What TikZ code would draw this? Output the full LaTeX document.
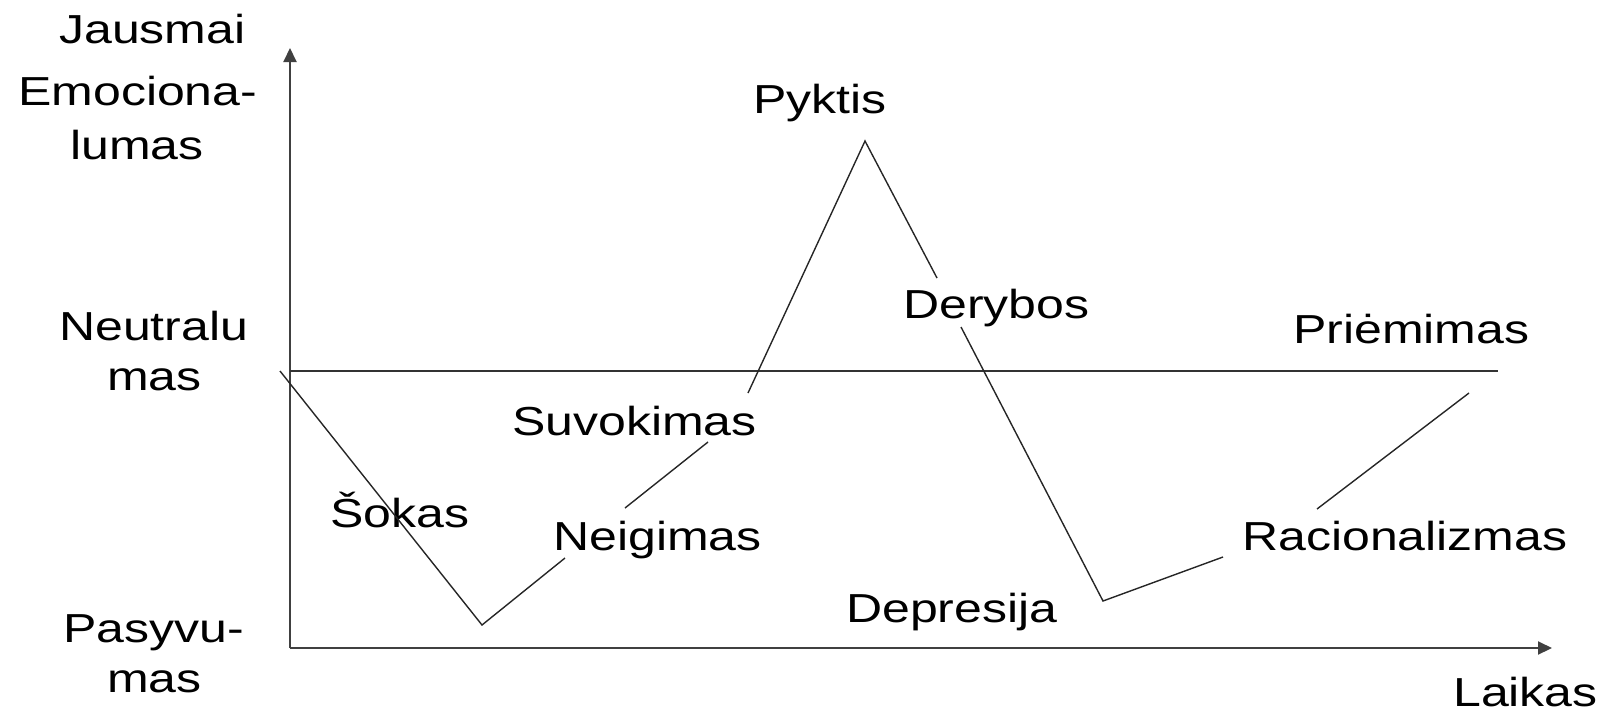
\documentclass[tikz,border=0pt]{standalone}
\usepackage{fontspec}
\setmainfont{Liberation Sans}[FakeStretch=1.235]
\usetikzlibrary{arrows.meta}
\begin{document}
\begin{tikzpicture}[x=1pt,y=-1pt,
  lbl/.style={anchor=base west, inner sep=0pt, font=\fontsize{40.5}{48}\selectfont},
  axisline/.style={line width=2pt, black!75, -{Triangle[length=14pt,width=13pt]}},
  guide/.style={line width=1.5pt, black!80},
  curve/.style={line width=1.4pt, black!85, line join=miter}]
\useasboundingbox (0,0) rectangle (1606,713);

% axes
\coordinate (O) at (290,648);
\coordinate (ytop) at (290,48);
\coordinate (xend) at (1552,648);
\draw[axisline] (O) -- (ytop);
\draw[axisline] (O) -- (xend);

% neutral level
\coordinate (n0) at (290,371);
\coordinate (n1) at (1498,371);
\draw[guide] (n0) -- (n1);

% axis labels
\node[lbl] (jausmai) at (59,43) {Jausmai};
\node[lbl] (emo1) at (18,105) {Emociona-};
\node[lbl] (emo2) at (70,159) {lumas};
\node[lbl] (neu1) at (59,340) {Neutralu};
\node[lbl] (neu2) at (107,390) {mas};
\node[lbl] (pas1) at (63,642) {Pasyvu-};
\node[lbl] (pas2) at (107,692) {mas};
\node[lbl] (laikas) at (1453,706) {Laikas};

% stage labels
\node[lbl] (pyktis) at (753,113) {Pyktis};
\node[lbl] (derybos) at (903,318) {Derybos};
\node[lbl] (priemimas) at (1293,343) {Priėmimas};
\node[lbl] (suvokimas) at (512,435) {Suvokimas};
\node[lbl] (sokas) at (330,527) {Šokas};
\node[lbl] (neigimas) at (553,550) {Neigimas};
\node[lbl] (racional) at (1242,550) {Racionalizmas};
\node[lbl] (depresija) at (846,622) {Depresija};

% emotional curve, broken around the labels
\coordinate (c0) at (280,371);
\coordinate (c1) at (482,625);
\coordinate (c2) at (565,558);
\coordinate (c3) at (625,508);
\coordinate (c4) at (708,442);
\coordinate (c5) at (748,393);
\coordinate (c6) at (865,141);
\coordinate (c7) at (937,278);
\coordinate (c8) at (961,327);
\coordinate (c9) at (1103,601);
\coordinate (c10) at (1223,557);
\coordinate (c11) at (1317,509);
\coordinate (c12) at (1469,393);
\draw[curve] (c0) -- (c1) -- (c2);
\draw[curve] (c3) -- (c4);
\draw[curve] (c5) -- (c6) -- (c7);
\draw[curve] (c8) -- (c9) -- (c10);
\draw[curve] (c11) -- (c12);
\end{tikzpicture}
\end{document}
